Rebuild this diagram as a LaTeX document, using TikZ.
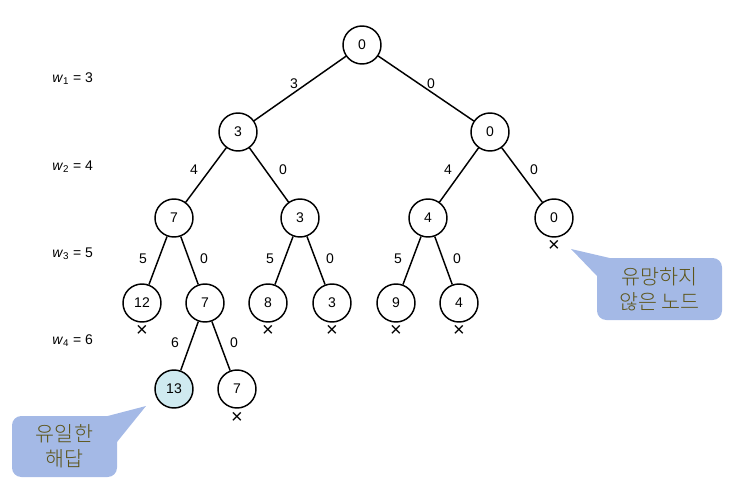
\documentclass[tikz,border=0pt]{standalone}
\usepackage{fontspec}
\setmainfont{Liberation Sans}
\newfontfamily\kr{Noto Sans CJK KR Light}
\definecolor{callfill}{HTML}{A4B9E6}
\definecolor{calltext}{HTML}{5C5418}
\definecolor{solfill}{HTML}{CFEAF0}
\begin{document}
\begin{tikzpicture}[x=0.75pt,y=-0.75pt,
  tn/.style={circle,draw,line width=1.1pt,minimum size=28.5pt,inner sep=0pt,font=\fontsize{10.5}{12}\selectfont},
  el/.style={inner sep=0pt,font=\fontsize{10.5}{12}\selectfont},
  xm/.style={inner sep=0pt,font=\fontsize{15}{15}\selectfont},
  wl/.style={inner sep=0pt,anchor=west,font=\fontsize{10.5}{12}\selectfont},
  edge/.style={line width=1.1pt},
  callout/.style={fill=callfill,rounded corners=7pt},
  ctext/.style={align=center,text=calltext,font=\kr\fontsize{15.5}{18.5}\selectfont}]
\useasboundingbox (0,0) rectangle (748,488);
% nodes
\node[tn] (r) at (362,45) {0};
\node[tn] (a) at (238,132) {3};
\node[tn] (b) at (490,132) {0};
\node[tn] (aa) at (174,218) {7};
\node[tn] (ab) at (300,218) {3};
\node[tn] (ba) at (428,218) {4};
\node[tn] (bb) at (554,218) {0};
\node[tn] (aaa) at (142,303) {12};
\node[tn] (aab) at (205,303) {7};
\node[tn] (aba) at (268,303) {8};
\node[tn] (abb) at (332,303) {3};
\node[tn] (baa) at (396,303) {9};
\node[tn] (bab) at (459,303) {4};
\node[tn,fill=solfill] (aaba) at (174,389) {13};
\node[tn] (aabb) at (237,389) {7};
% edges
\foreach \p/\c in {r/a,r/b,a/aa,a/ab,b/ba,b/bb,aa/aaa,aa/aab,ab/aba,ab/abb,ba/baa,ba/bab,aab/aaba,aab/aabb}
  \draw[edge] (\p) -- (\c);
% edge labels
\node[el] (l1) at (294,84) {3};
\node[el] (l2) at (431,84) {0};
\node[el] (l3) at (194,170) {4};
\node[el] (l4) at (283,170) {0};
\node[el] (l5) at (448,170) {4};
\node[el] (l6) at (534,170) {0};
\node[el] (l7) at (143,259) {5};
\node[el] (l8) at (204,259) {0};
\node[el] (l9) at (270,259) {5};
\node[el] (l10) at (330,259) {0};
\node[el] (l11) at (398,259) {5};
\node[el] (l12) at (457,259) {0};
\node[el] (l13) at (175,343) {6};
\node[el] (l14) at (234,343) {0};
% crosses
\node[xm] (x1) at (554,246) {×};
\node[xm] (x2) at (142,331) {×};
\node[xm] (x3) at (268,331) {×};
\node[xm] (x4) at (332,331) {×};
\node[xm] (x5) at (396,331) {×};
\node[xm] (x6) at (459,331) {×};
\node[xm] (x7) at (237,418) {×};
% weights
\node[wl] (w1) at (52,79) {\textit{w}\textsubscript{1} = 3};
\node[wl] (w2) at (52,167) {\textit{w}\textsubscript{2} = 4};
\node[wl] (w3) at (52,254) {\textit{w}\textsubscript{3} = 5};
\node[wl] (w4) at (52,341) {\textit{w}\textsubscript{4} = 6};
% callouts
\fill[callout] (12,416) rectangle (117,477);
\fill[callfill] (146,406) -- (100,418) -- (117,442) -- cycle;
\node[ctext] (c1) at (64.5,446.5) {유일한\\해답};
\fill[callout] (597,258) rectangle (722,320);
\fill[callfill] (571,249) -- (597,276) -- (614,259) -- cycle;
\node[ctext] (c2) at (659.5,289) {유망하지\\않은 노드};
\end{tikzpicture}
\end{document}
